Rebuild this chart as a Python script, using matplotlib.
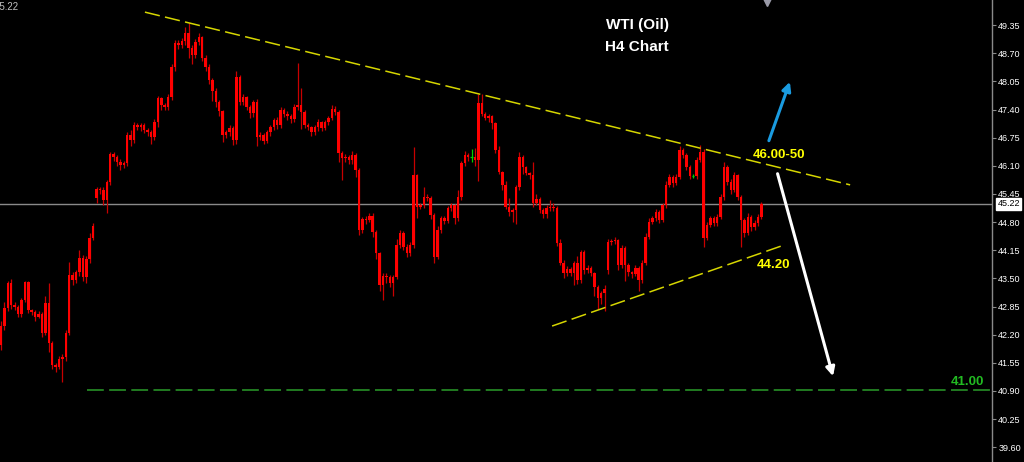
import matplotlib.pyplot as plt

# H4 candles, left to right (price)
first_open = 41.96
gap_opens = {28: 45.35, 178: 43.69}

closes = [42.40, 42.81, 43.39, 42.88, 42.84, 42.67, 43.00, 43.41, 42.77, 42.72,
          42.61, 42.67, 42.24, 42.93, 42.00, 41.50, 41.45, 41.64, 41.68, 42.24,
          43.58, 43.46, 43.64, 43.97, 43.53, 43.94, 44.43, 44.71,
          45.56, 45.54, 45.31, 45.72, 46.37, 46.30, 46.19, 46.12, 46.16, 46.81,
          46.69, 47.04, 46.99, 47.04, 46.92, 46.88, 46.76, 47.11, 47.66, 47.50,
          47.46, 47.69, 48.38, 48.93, 48.89, 48.98, 49.17, 48.82, 48.66, 48.96,
          49.07, 48.59, 48.38, 48.08, 47.83, 47.57, 47.36, 46.81, 46.88, 46.97,
          46.69, 48.15, 47.57, 47.69, 47.46, 47.32, 47.57, 46.76, 46.81, 46.67,
          46.88, 46.99, 47.16, 47.04, 47.39, 47.30, 47.25, 47.18, 47.46, 47.50,
          47.34, 47.04, 46.99, 46.88, 46.99, 47.11, 46.97, 47.11, 47.20, 47.41,
          47.34, 46.39, 46.28, 46.30, 46.23, 46.35, 46.00, 44.62, 44.87, 44.85,
          44.94, 44.57, 44.08, 43.35, 43.55, 43.53, 43.39, 43.53, 44.27, 44.55,
          44.22, 44.08, 44.27, 45.88, 45.15, 45.19, 45.38, 45.35, 44.96, 43.99,
          44.62, 44.89, 44.82, 45.12, 45.19, 44.89, 45.38, 46.16, 46.35, 46.30,
          46.30, 46.23, 47.55, 47.30, 47.20, 47.25, 47.09, 46.46, 45.95, 45.65,
          45.15, 45.03, 45.08, 45.61, 46.30, 46.07, 45.93, 45.88, 45.24, 45.33,
          45.08, 44.98, 45.12, 45.15, 45.12, 44.31, 43.85, 43.62, 43.71, 43.62,
          43.85, 43.46, 44.11, 43.69, 43.74, 43.62, 43.30, 43.04, 43.16, 43.25,
          44.34, 44.36, 44.38, 43.81, 44.20, 43.81, 43.64, 43.60, 43.74, 43.46,
          43.85, 44.45, 44.80, 44.89, 45.03, 44.85, 45.19, 45.65, 45.84, 45.70,
          45.84, 46.46, 46.35, 46.07, 45.86, 45.86, 46.23, 46.42, 44.43, 44.73,
          44.89, 44.78, 44.92, 45.38, 46.07, 45.72, 45.54, 45.88, 45.38, 44.85,
          44.55, 44.92, 44.69, 44.78, 44.92, 45.22]

highs = [42.52, 42.95, 43.45, 43.48, 42.95, 42.88, 43.05, 43.45, 43.45, 42.80,
         42.78, 42.75, 42.72, 43.10, 43.40, 42.05, 41.55, 41.70, 41.75, 42.30,
         43.88, 43.65, 43.70, 44.15, 44.05, 44.02, 44.55, 44.78,
         45.62, 45.62, 45.60, 45.78, 46.42, 46.42, 46.35, 46.25, 46.22, 46.88,
         46.92, 47.12, 47.10, 47.10, 47.08, 46.98, 46.92, 47.18, 47.72, 47.70,
         47.55, 47.75, 48.45, 49.00, 49.00, 49.05, 49.30, 49.40, 48.90, 49.02,
         49.17, 49.10, 48.65, 48.45, 48.12, 47.90, 47.62, 47.40, 46.92, 47.05,
         47.02, 48.30, 48.20, 47.75, 47.72, 47.50, 47.62, 47.65, 46.88, 46.85,
         46.92, 47.05, 47.20, 47.22, 47.45, 47.44, 47.36, 47.30, 47.52, 48.47,
         47.90, 47.38, 47.10, 47.02, 47.04, 47.18, 47.14, 47.15, 47.25, 47.50,
         47.48, 47.38, 46.45, 46.38, 46.35, 46.45, 46.40, 46.05, 44.92, 44.95,
         45.00, 45.02, 44.62, 44.12, 43.62, 43.62, 43.58, 43.58, 44.42, 44.62,
         44.60, 44.30, 44.35, 46.53, 45.92, 45.25, 45.60, 45.45, 45.40, 45.00,
         44.70, 44.95, 44.95, 45.18, 45.25, 45.22, 45.55, 46.22, 46.45, 46.40,
         46.50, 46.52, 47.76, 47.76, 47.35, 47.30, 47.28, 47.12, 46.55, 45.98,
         45.75, 45.35, 45.12, 45.65, 46.42, 46.35, 46.10, 45.95, 46.20, 45.45,
         45.38, 45.12, 45.20, 45.30, 45.25, 45.18, 44.40, 43.92, 43.78, 43.76,
         43.90, 44.02, 44.15, 44.15, 43.80, 43.78, 43.65, 43.35, 43.22, 43.35,
         44.40, 44.42, 44.45, 44.42, 44.28, 44.25, 43.85, 43.68, 43.80, 43.78,
         43.92, 44.55, 44.90, 44.95, 45.10, 45.08, 45.25, 45.75, 45.90, 45.88,
         45.90, 46.55, 46.52, 46.40, 46.12, 45.90, 46.30, 46.58, 46.50, 44.80,
         44.95, 44.95, 44.98, 45.45, 46.19, 46.12, 45.80, 45.95, 45.92, 45.42,
         44.90, 45.00, 44.96, 44.85, 44.98, 45.26]

lows = [41.85, 42.30, 42.75, 42.80, 42.78, 42.60, 42.60, 42.95, 42.70, 42.65,
        42.52, 42.58, 42.15, 42.20, 41.80, 41.40, 41.35, 41.40, 41.10, 41.60,
        42.20, 43.35, 43.40, 43.55, 43.45, 43.40, 43.85, 44.38,
        45.25, 45.45, 45.20, 45.00, 45.65, 46.22, 46.10, 46.00, 46.05, 46.10,
        46.55, 46.62, 46.92, 46.90, 46.85, 46.80, 46.60, 46.70, 47.00, 47.40,
        47.38, 47.40, 47.62, 48.30, 48.80, 48.82, 48.90, 48.60, 48.45, 48.60,
        48.90, 48.52, 48.30, 48.00, 47.60, 47.45, 47.25, 46.65, 46.75, 46.80,
        46.58, 46.60, 47.50, 47.50, 47.40, 47.20, 47.22, 46.55, 46.70, 46.60,
        46.62, 46.80, 46.92, 46.95, 46.98, 47.22, 47.15, 47.10, 47.12, 47.40,
        46.95, 46.98, 46.92, 46.80, 46.82, 46.90, 46.90, 46.92, 47.05, 47.15,
        47.28, 46.20, 45.77, 46.20, 46.15, 46.15, 45.85, 44.50, 44.55, 44.75,
        44.80, 44.45, 43.95, 43.20, 43.00, 43.40, 43.30, 43.10, 43.48, 44.20,
        44.15, 44.00, 44.02, 44.20, 44.90, 45.10, 45.12, 45.28, 44.88, 43.85,
        43.95, 44.55, 44.75, 44.78, 45.05, 44.75, 44.82, 45.30, 46.10, 46.22,
        46.20, 46.10, 45.75, 47.25, 47.15, 47.12, 46.95, 46.40, 45.90, 45.55,
        45.10, 44.95, 44.80, 44.75, 45.55, 45.90, 45.88, 45.80, 45.15, 45.20,
        45.00, 44.90, 44.90, 45.05, 45.05, 44.25, 43.80, 43.50, 43.55, 43.55,
        43.35, 43.38, 43.40, 43.60, 43.62, 43.55, 43.10, 42.80, 42.90, 42.75,
        43.60, 44.28, 44.30, 43.70, 43.75, 43.45, 43.55, 43.50, 43.55, 43.20,
        43.40, 43.80, 44.40, 44.75, 44.82, 44.78, 44.80, 45.12, 45.60, 45.62,
        45.65, 45.80, 46.28, 46.00, 45.80, 45.82, 45.80, 46.18, 44.22, 44.38,
        44.68, 44.70, 44.72, 44.88, 45.30, 45.65, 45.45, 45.50, 45.30, 44.22,
        44.45, 44.50, 44.60, 44.62, 44.70, 44.88]

price_ticks = [39.60, 40.25, 40.90, 41.55, 42.20, 42.85, 43.50, 44.15, 44.80,
               45.45, 46.10, 46.75, 47.40, 48.05, 48.70, 49.35]
last_price = 45.22
target_price = 40.93

# drawn levels (bar index, price)
upper_trend = [(42.2, 49.65), (249.0, 45.66)]
lower_trend = [(161.6, 42.40), (229.6, 44.27)]

opens = [first_open] + closes[:-1]
for k, v in gap_opens.items():
    opens[k] = v
n = len(closes)
idx = list(range(n))

fig = plt.figure(figsize=(10.24, 4.62), dpi=100, facecolor='black')
ax = fig.add_axes([0, 0, 992 / 1024, 1])
ax.set_facecolor('black')
ax.set_xlim(-0.3, 290.6)
ax.set_ylim(39.26, 49.93)

# current price line
ax.axhline(last_price, color='#8a8a8a', lw=1, zorder=1)
# target line
ax.plot([25.2, 290.6], [target_price, target_price], color='#2a9d2a', lw=1.1,
        dashes=(11, 3.5), zorder=1)

# candles
for i in idx:
    o, c, h, l = opens[i], closes[i], highs[i], lows[i]
    if abs(c - o) < 0.005:
        ax.vlines(i, l, h, color='#00d000', lw=0.9, zorder=3)
        ax.hlines(c, i - 0.35, i + 0.35, color='#00d000', lw=0.9, zorder=3)
        continue
    ax.vlines(i, l, h, color='#c80000', lw=0.9, zorder=2)
    bot = min(o, c)
    hgt = max(abs(c - o), 0.025)
    ax.bar(i, hgt, bottom=bot, width=0.72, color='#ff0000', linewidth=0, zorder=3)

# trend lines
for tl in (upper_trend, lower_trend):
    ax.plot([tl[0][0], tl[1][0]], [tl[0][1], tl[1][1]], color='#d6d600', lw=1.1,
            dashes=(10, 3.5), zorder=4)

# arrows
ax.annotate('', xy=(231.6, 48.10), xytext=(224.9, 46.62),
            arrowprops=dict(arrowstyle='-|>', color='#1a9be0', lw=2.2, mutation_scale=13))
ax.annotate('', xy=(244.2, 41.18), xytext=(227.5, 45.98),
            arrowprops=dict(arrowstyle='-|>', color='white', lw=2.2, mutation_scale=13))

# texts
ax.text(186.5, 49.35, 'WTI (Oil)', color='white', fontsize=11, fontweight='bold',
        family='Liberation Sans', ha='center', va='center')
ax.text(186.5, 48.85, 'H4 Chart', color='white', fontsize=11, fontweight='bold',
        family='Liberation Sans', ha='center', va='center')
ax.text(228.2, 46.35, '46.00-50', color='#ffff00', fontsize=9.5, fontweight='bold',
        family='Liberation Sans', ha='center', va='center', zorder=6)
ax.text(226.6, 43.81, '44.20', color='#ffff00', fontsize=9.5, fontweight='bold',
        family='Liberation Sans', ha='center', va='center', zorder=6)
ax.text(283.4, 41.11, '41.00', color='#22bb22', fontsize=9.5, fontweight='bold',
        family='Liberation Sans', ha='center', va='center')

# small marker at the top edge
ax.plot(224.6, 49.93, marker='v', ms=9, color='#9a9aa8', clip_on=False, zorder=6)

# right price axis
for s in ('left', 'top', 'bottom'):
    ax.spines[s].set_visible(False)
ax.spines['right'].set_color('#8a8a8a')
ax.spines['right'].set_linewidth(1)
ax.set_xticks([])
ax.yaxis.tick_right()
ax.set_yticks(price_ticks)
ax.set_yticklabels([f'{t:.2f}' for t in price_ticks])
ax.tick_params(axis='y', colors='#8a8a8a', labelcolor='white', labelsize=6.5,
               length=3, width=0.8, pad=1.5)
for lab in ax.get_yticklabels():
    lab.set_family('Liberation Sans')

ax.annotate(f'{last_price:.2f}', xy=(1.0, last_price), xycoords=('axes fraction', 'data'),
            xytext=(4, 0), textcoords='offset points', fontsize=6.5, family='Liberation Sans',
            color='black', va='center', ha='left',
            bbox=dict(boxstyle='square,pad=0.15', fc='white', ec='white'), annotation_clip=False)

# price readout at the top-left corner, partly outside the frame as in the terminal
fig.text(-5 / 1024, 1 - 7 / 462, f'{last_price:.2f}', color='#c0c0c0', fontsize=7,
         family='Liberation Sans', va='center', ha='left')

fig.savefig('out.png', dpi=100, facecolor='black')
